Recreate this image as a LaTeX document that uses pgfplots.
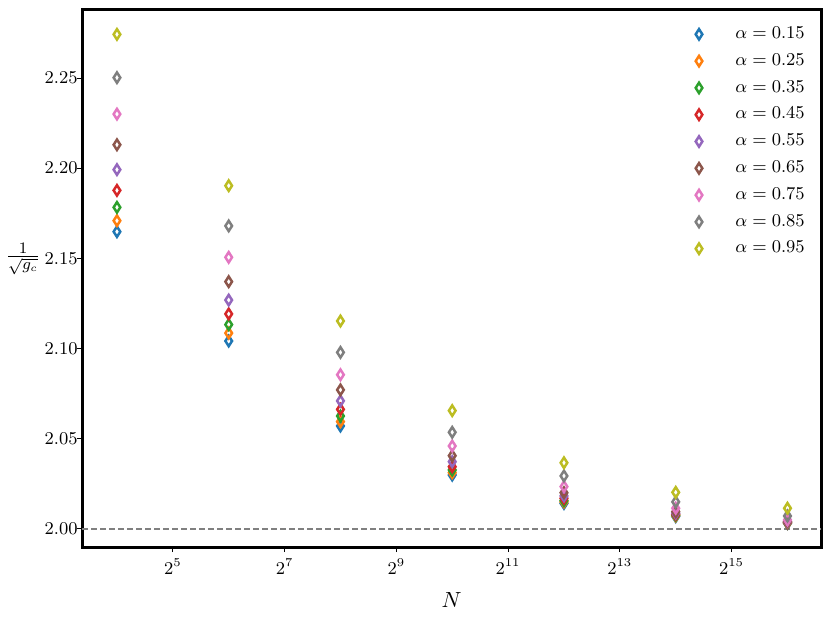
\documentclass[border=0pt]{standalone}
\usepackage{pgfplots}
\pgfplotsset{compat=1.18}
\definecolor{c1}{HTML}{1F77B4}
\definecolor{c2}{HTML}{FF7F0E}
\definecolor{c3}{HTML}{2CA02C}
\definecolor{c4}{HTML}{D62728}
\definecolor{c5}{HTML}{9467BD}
\definecolor{c6}{HTML}{8C564B}
\definecolor{c7}{HTML}{E377C2}
\definecolor{c8}{HTML}{7F7F7F}
\definecolor{c9}{HTML}{BCBD22}
\pgfplotsset{dm/.style={only marks, mark=diamond, mark size=2.6pt, line width=1.25pt, mark options={xscale=0.85, solid}}}
\begin{document}
\begin{tikzpicture}
\begin{axis}[
  scale only axis,
  width=369.5pt, height=268.5pt,
  xmode=log, log basis x=2,
  xmin=10.37, xmax=99334,
  ymin=1.990, ymax=2.2877,
  xtick={32,128,512,2048,8192,32768},
  xticklabels={$2^{5}$,$2^{7}$,$2^{9}$,$2^{11}$,$2^{13}$,$2^{15}$},
  ytick={2.00,2.05,2.10,2.15,2.20,2.25},
  yticklabel style={xshift=1.5pt, inner xsep=1pt, /pgf/number format/.cd, fixed, fixed zerofill, precision=2},
  minor tick num=0,
  axis line style={line width=1.5pt},
  major tick style={line width=0.5pt, black},
  tick align=outside,
  major tick length=2.5pt,
  xtick pos=bottom, ytick pos=left,
  tick label style={font=\fontsize{8.7}{10.5}\selectfont},
  xlabel={$N$},
  xlabel style={font=\fontsize{11}{13}\selectfont, at={(rel axis cs:0.5,0)}, anchor=center, yshift=-26.5pt},
  ylabel={$\frac{1}{\sqrt{g_c}}$},
  ylabel style={rotate=-90, inner sep=0pt, font=\fontsize{11}{13}\selectfont, at={(rel axis cs:0,0.536)}, anchor=center, xshift=-29.5pt},
  legend style={draw=none, fill=none, at={(rel axis cs:0.992,0.984)}, anchor=north east,
    font=\fontsize{9}{11}\selectfont, row sep=2.1pt, legend cell align=left},
  legend image code/.code={\draw[#1] plot coordinates {(0pt,0pt)}; \path (-3pt,0pt) (15.5pt,0pt);},
]
\addplot[forget plot, no marks, draw=gray, dash pattern=on 3pt off 1.5pt, line width=0.55pt] coordinates {(10.37,2) (99334,2)};
\addplot[dm, c1] coordinates {(16,2.1648) (64,2.1042) (256,2.0571) (1024,2.0299) (4096,2.0142) (16384,2.0069) (65536,2.0031)};
\addlegendentry{$\alpha=0.15$}
\addplot[dm, c2] coordinates {(16,2.1709) (64,2.1086) (256,2.0595) (1024,2.0312) (4096,2.0150) (16384,2.0073) (65536,2.0033)};
\addlegendentry{$\alpha=0.25$}
\addplot[dm, c3] coordinates {(16,2.1783) (64,2.1133) (256,2.0626) (1024,2.0327) (4096,2.0157) (16384,2.0077) (65536,2.0035)};
\addlegendentry{$\alpha=0.35$}
\addplot[dm, c4] coordinates {(16,2.1877) (64,2.1192) (256,2.0663) (1024,2.0345) (4096,2.0170) (16384,2.0082) (65536,2.0037)};
\addlegendentry{$\alpha=0.45$}
\addplot[dm, c5] coordinates {(16,2.1992) (64,2.1269) (256,2.0710) (1024,2.0373) (4096,2.0183) (16384,2.0088) (65536,2.0040)};
\addlegendentry{$\alpha=0.55$}
\addplot[dm, c6] coordinates {(16,2.2130) (64,2.1371) (256,2.0771) (1024,2.0406) (4096,2.0201) (16384,2.0096) (65536,2.0043)};
\addlegendentry{$\alpha=0.65$}
\addplot[dm, c7] coordinates {(16,2.2300) (64,2.1506) (256,2.0855) (1024,2.0460) (4096,2.0235) (16384,2.0115) (65536,2.0050)};
\addlegendentry{$\alpha=0.75$}
\addplot[dm, c8] coordinates {(16,2.2502) (64,2.1680) (256,2.0979) (1024,2.0536) (4096,2.0294) (16384,2.0150) (65536,2.0072)};
\addlegendentry{$\alpha=0.85$}
\addplot[dm, c9] coordinates {(16,2.2742) (64,2.1903) (256,2.1153) (1024,2.0656) (4096,2.0367) (16384,2.0203) (65536,2.0115)};
\addlegendentry{$\alpha=0.95$}
\end{axis}
\pgfresetboundingbox
\path[use as bounding box] ([shift={(-41pt,-38pt)}]current axis.south west) rectangle ([shift={(4.5pt,5pt)}]current axis.north east);
\end{tikzpicture}
\end{document}
